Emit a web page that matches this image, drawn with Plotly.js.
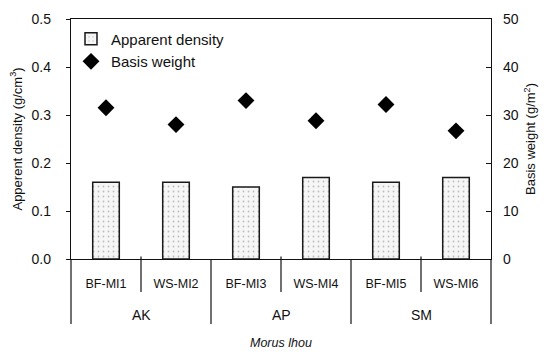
<!DOCTYPE html>
<html>
<head>
<meta charset="utf-8">
<script src="https://cdn.plot.ly/plotly-3.0.1.min.js"></script>
<style>html,body{margin:0;padding:0;background:#fff;}#chart{width:556px;height:352px;}</style>
</head>
<body>
<div id="chart"></div>
<script>
var subCategories = ['BF-MI1', 'WS-MI2', 'BF-MI3', 'WS-MI4', 'BF-MI5', 'WS-MI6'];
var groupLabels = ['AK', 'AP', 'SM'];
var apparentDensity = [0.16, 0.16, 0.15, 0.17, 0.16, 0.17];
var basisWeight = [31.5, 28.0, 33.0, 28.8, 32.2, 26.7];
var densityTicks = [0, 0.1, 0.2, 0.3, 0.4, 0.5];
var weightTicks = [0, 10, 20, 30, 40, 50];

var font = '"Liberation Sans", Arial, sans-serif';

var traces = [
  {
    type: 'bar',
    name: 'Apparent density',
    x: subCategories,
    y: apparentDensity,
    width: 0.38,
    marker: {
      color: '#f3f3f3',
      line: {color: '#1a1a1a', width: 1.5},
      pattern: {shape: '.', fgcolor: '#bdbdbd', bgcolor: '#f6f6f6', size: 5, solidity: 0.1}
    },
    yaxis: 'y'
  },
  {
    type: 'scatter',
    mode: 'markers',
    name: 'Basis weight',
    x: subCategories,
    y: basisWeight,
    marker: {symbol: 'diamond', size: 13, color: '#000'},
    yaxis: 'y2'
  }
];

var shapes = [];
var lineStyle = {color: '#111', width: 1.2};
for (var i = 1; i < subCategories.length; i++) {
  var isGroup = (i % 2 === 0);
  shapes.push({type: 'line', xref: 'x', yref: 'paper', x0: i - 0.5, x1: i - 0.5,
               y0: isGroup ? 0 : 0.01, y1: isGroup ? -0.271 : -0.1375, line: lineStyle});
}
shapes.push({type: 'line', xref: 'paper', yref: 'paper', x0: 0, x1: 0, y0: 0, y1: -0.271, line: lineStyle});
shapes.push({type: 'line', xref: 'paper', yref: 'paper', x0: 1, x1: 1, y0: 0, y1: -0.271, line: lineStyle});

var annotations = groupLabels.map(function (g, k) {
  return {text: g, xref: 'x', yref: 'paper', x: 2 * k + 0.5, y: -0.233, showarrow: false,
          xanchor: 'center', yanchor: 'middle', font: {family: font, size: 14, color: '#111'}};
});
annotations.push({text: '<i>Morus lhou</i>', xref: 'paper', yref: 'paper', x: 0.5, y: -0.35,
                  showarrow: false, xanchor: 'center', yanchor: 'middle',
                  font: {family: font, size: 12.5, color: '#111'}});

var layout = {
  width: 556, height: 352,
  margin: {l: 71, r: 65, t: 19, b: 93},
  paper_bgcolor: '#fff', plot_bgcolor: '#fff',
  showlegend: true,
  legend: {x: 0.0, y: 0.985, xanchor: 'left', yanchor: 'top', bgcolor: 'rgba(0,0,0,0)',
           font: {family: font, size: 15, color: '#111'}, tracegroupgap: 0, itemwidth: 30},
  xaxis: {
    type: 'category', range: [-0.5, 5.5], showline: true, mirror: true, linecolor: '#111', linewidth: 1.2,
    ticks: '', showgrid: false, zeroline: false, ticklabelstandoff: 13,
    tickfont: {family: font, size: 12.5, color: '#111'}
  },
  yaxis: {
    range: [0, 0.5], tickvals: densityTicks, tickformat: '.1f', ticks: 'outside', ticklen: 4,
    tickcolor: '#111', showline: true, linecolor: '#111', linewidth: 1.2, showgrid: false, zeroline: false,
    ticklabelstandoff: 12,
    tickfont: {family: font, size: 14, color: '#111'},
    title: {text: 'Apperent density (g/cm<sup>3</sup>)', font: {family: font, size: 13, color: '#111'}, standoff: 6}
  },
  yaxis2: {
    overlaying: 'y', side: 'right', range: [0, 50], tickvals: weightTicks, ticks: 'inside', ticklen: 5,
    tickcolor: '#111', showline: true, linecolor: '#111', linewidth: 1.2, showgrid: false, zeroline: false,
    ticklabelstandoff: 8,
    tickfont: {family: font, size: 14, color: '#111'},
    title: {text: 'Basis weight (g/m<sup>2</sup>)', font: {family: font, size: 13, color: '#111'}, standoff: 8}
  },
  shapes: shapes,
  annotations: annotations
};

Plotly.newPlot('chart', traces, layout, {displayModeBar: false, staticPlot: true});
</script>
</body>
</html>
